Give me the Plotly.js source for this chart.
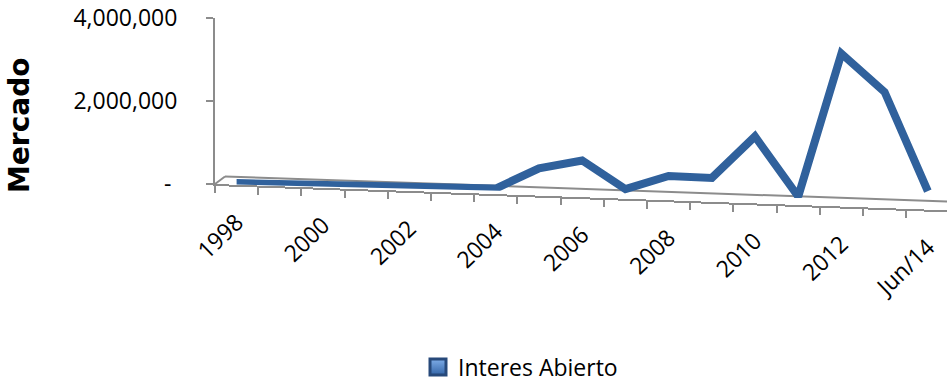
<!DOCTYPE html>
<html>
<head>
<meta charset="utf-8">
<script src="https://cdn.plot.ly/plotly-3.0.1.min.js"></script>
<style>
  html, body { margin: 0; padding: 0; background: #ffffff; }
  #chart { width: 947px; height: 385px; }
</style>
</head>
<body>
<div id="chart"></div>
<script>
// Open interest, yearly, 1998 to June 2014
const categories = ['1998', '1999', '2000', '2001', '2002', '2003', '2004', '2005',
  '2006', '2007', '2008', '2009', '2010', '2011', '2012', '2013', 'Jun/14'];
const interesAbierto = [36000, 41000, 40000, 46000, 49000, 48000, 53000, 566000,
  778000, 116000, 455000, 432000, 1458000, 36000, 3506000, 2604000, 240000];
const seriesName = 'Interes Abierto';
const axisTitle = 'Mercado';

// every other category gets a label on the date axis
const xTickText = categories.map((c, i) => (i % 2 === 0 ? c : ''));

// value axis ticks, accounting style ("-" for zero)
const yTickVals = [0, 2000000, 4000000];
const yTickText = ['-\u00a0', '2,000,000', '4,000,000'];

const LINE_BLUE = '#30619C';
const AXIS_GREY = '#8C8C8C';
const TXT = 'Open Sans, Liberation Sans, sans-serif';

// plot box in pixels
const M = { l: 215, r: 0, t: 18, b: 201 };
const W = 947, H = 385;
const plotW = W - M.l - M.r, plotH = H - M.t - M.b;
const px = x => (x - M.l) / plotW;          // pixel -> paper x
const py = y => (M.t + plotH - y) / plotH;  // pixel -> paper y

// slant of the chart floor (3-D perspective look)
const FLOOR_SLOPE = 0.036;
const SERIES_SLOPE = 0.024;

const lineTrace = {
  type: 'scatter',
  mode: 'lines',
  x: categories,
  y: interesAbierto,
  name: seriesName,
  showlegend: false,
  cliponaxis: false,
  line: { color: LINE_BLUE, width: 8 },
  hoverinfo: 'skip'
};

// legend key: square, bevelled blue box (no point of its own on the plot)
const legendKey = {
  type: 'scatter',
  mode: 'markers',
  x: [categories[0]],
  y: [null],
  name: seriesName,
  showlegend: true,
  cliponaxis: false,
  marker: {
    symbol: 'square',
    size: 16,
    color: '#7FAEE8',
    gradient: { type: 'vertical', color: '#3465A8' },
    line: { color: '#27497A', width: 3 }
  }
};

const floorShapes = [
  // back edge of the floor
  { type: 'line', xref: 'paper', yref: 'paper', layer: 'below',
    x0: px(225), y0: py(176.5), x1: px(947), y1: py(176.5 + FLOOR_SLOPE * 722 - 1),
    line: { color: AXIS_GREY, width: 2 } },
  // left side of the floor
  { type: 'line', xref: 'paper', yref: 'paper', layer: 'below',
    x0: px(215), y0: py(184), x1: px(225), y1: py(176.5),
    line: { color: AXIS_GREY, width: 2 } }
];

const layout = {
  width: W,
  height: H,
  margin: M,
  paper_bgcolor: '#ffffff',
  plot_bgcolor: 'rgba(0,0,0,0)',
  showlegend: true,
  font: { family: TXT, size: 23, color: '#000000' },
  xaxis: {
    type: 'category',
    range: [-0.5, 16.444],
    fixedrange: true,
    showgrid: false,
    zeroline: false,
    showline: true,
    linecolor: AXIS_GREY,
    linewidth: 2,
    ticks: 'outside',
    tickson: 'boundaries',
    ticklen: 7,
    tickwidth: 2,
    tickcolor: AXIS_GREY,
    tickmode: 'array',
    tickvals: categories,
    ticktext: xTickText,
    tickangle: -45,
    ticklabelstandoff: 13,
    tickfont: { family: TXT, size: 23, color: '#000000' }
  },
  yaxis: {
    range: [0, 4000000],
    fixedrange: true,
    showgrid: false,
    zeroline: false,
    showline: true,
    linecolor: AXIS_GREY,
    linewidth: 2,
    ticks: 'outside',
    ticklen: 7,
    tickwidth: 2,
    tickcolor: AXIS_GREY,
    tickmode: 'array',
    tickvals: yTickVals,
    ticktext: yTickText,
    ticklabelstandoff: 24,
    tickfont: { family: TXT, size: 23, color: '#000000' }
  },
  annotations: [{
    text: axisTitle,
    xref: 'paper', yref: 'paper',
    x: px(19), y: py(125),
    xanchor: 'center', yanchor: 'middle',
    textangle: -90,
    showarrow: false,
    font: { family: 'DejaVu Sans, sans-serif', size: 28, weight: 'bold', color: '#000000' }
  }],
  legend: {
    orientation: 'h',
    xref: 'container',
    yref: 'container',
    x: 418 / W,
    xanchor: 'left',
    y: (H - 367) / H,
    yanchor: 'middle',
    bgcolor: 'rgba(0,0,0,0)',
    font: { family: TXT, size: 23, color: '#000000' }
  },
  shapes: floorShapes
};

Plotly.newPlot('chart', [lineTrace, legendKey], layout, { staticPlot: true, displayModeBar: false })
  .then(gd => {
    // the series may dip under the plot box once tilted: no clipping
    gd.querySelectorAll('.overplot .xy, .overplot .xy .trace, .scatterlayer').forEach(g =>
      g.removeAttribute('clip-path'));
    // tilt the series plane and the category axis to follow the floor
    gd.querySelectorAll('.scatterlayer').forEach(g =>
      g.setAttribute('transform', `matrix(1 ${SERIES_SLOPE} 0 1 0 0)`));
    const off = -M.l * FLOOR_SLOPE;
    gd.querySelectorAll('.xaxislayer-above, .xlines-above').forEach(g =>
      g.setAttribute('transform', `matrix(1 ${FLOOR_SLOPE} 0 1 0 ${off})`));
  });
</script>
</body>
</html>
